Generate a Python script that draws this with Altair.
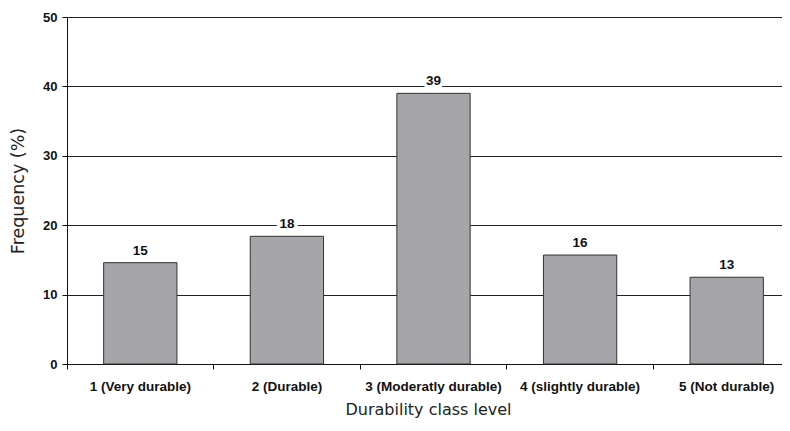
import altair as alt
import pandas as pd

categories = ["1 (Very durable)", "2 (Durable)", "3 (Moderatly durable)",
              "4 (slightly durable)", "5 (Not durable)"]
values = [14.6, 18.4, 39.0, 15.7, 12.5]
labels = ["15", "18", "39", "16", "13"]

df = pd.DataFrame({"cat": categories, "val": values, "lab": labels})

xscale = alt.Scale(domain=categories, range=[0, 733], paddingInner=0, paddingOuter=0)
yscale = alt.Scale(domain=[0, 50])

yenc = alt.Y("val:Q", scale=yscale,
             axis=alt.Axis(title="Frequency (%)", values=[0, 10, 20, 30, 40, 50],
                           format="d", grid=True, gridColor="#222222", gridWidth=1,
                           domainColor="#111111", tickColor="#111111", tickSize=5,
                           labelFont="Liberation Sans", labelFontWeight="bold",
                           labelFontSize=13, labelColor="#111111", labelPadding=5,
                           titleFont="DejaVu Sans", titleFontSize=17.5,
                           titleFontWeight="normal", titleColor="#222222",
                           titlePadding=15))

bars = alt.Chart(df).mark_bar(
    width=alt.RelativeBandSize(0.5), color="#a6a6aa", stroke="#333333", strokeWidth=1
).encode(
    x=alt.X("cat:N", scale=xscale, sort=categories,
            axis=alt.Axis(orient="bottom", title=None, labels=False, bandPosition=0,
                          ticks=True, tickSize=5, tickColor="#111111",
                          domain=True, domainColor="#111111", grid=False)),
    y=yenc,
)

halo = alt.Chart(df).mark_text(
    baseline="alphabetic", dy=-8, font="Liberation Sans", fontWeight="bold",
    fontSize=13.5, color="white", stroke="white", strokeWidth=7
).encode(
    x=alt.X("cat:N", scale=xscale, sort=categories, axis=None),
    y=yenc,
    text="lab:N",
)

text = alt.Chart(df).mark_text(
    baseline="alphabetic", dy=-8, font="Liberation Sans", fontWeight="bold",
    fontSize=13.5, color="#111111"
).encode(
    x=alt.X("cat:N", scale=xscale, sort=categories,
            axis=alt.Axis(orient="bottom", title="Durability class level",
                          labelAngle=0, ticks=False, domain=False, grid=False,
                          labelFont="Liberation Sans", labelFontWeight="bold",
                          labelFontSize=13.5, labelColor="#111111", labelPadding=15,
                          titleFont="DejaVu Sans", titleFontSize=16,
                          titleFontWeight="normal", titleColor="#222222",
                          titlePadding=9, titleX=361)),
    y=yenc,
    text="lab:N",
)

chart = alt.layer(bars, halo, text).resolve_axis(x="independent").properties(
    width=715, height=347, autosize="none",
    padding={"left": 59, "top": 9, "right": 0, "bottom": 58},
).configure_view(stroke=None).configure(background="white")

chart.save("out.html", embed_options={"renderer": "svg", "actions": False})
